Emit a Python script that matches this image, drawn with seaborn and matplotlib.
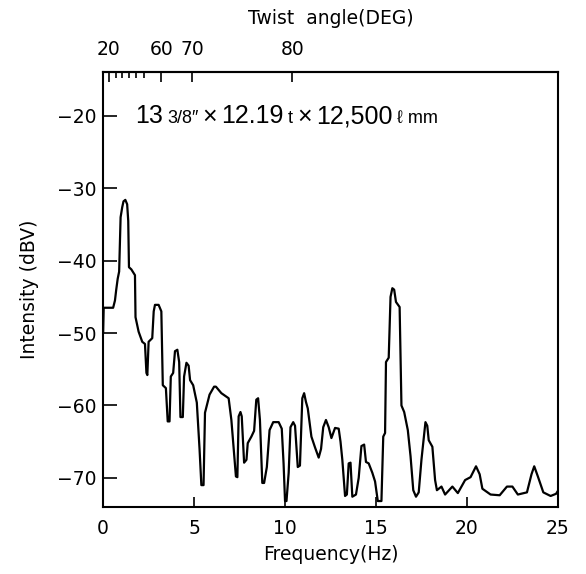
import matplotlib
matplotlib.use("Agg")
import matplotlib.pyplot as plt
from matplotlib.offsetbox import TextArea, HPacker, AnchoredOffsetbox
import seaborn as sns
import pandas as pd

# spectrum
freq_hz = [0.00, 0.03, 0.55, 0.65, 0.72, 0.80, 0.88, 0.92, 0.96, 1.05, 1.12, 1.22, 1.32, 1.38,
           1.42, 1.55, 1.75, 1.78, 1.95, 2.15, 2.30, 2.38, 2.43, 2.50, 2.70, 2.78, 2.85, 3.05,
           3.20, 3.28, 3.45, 3.55, 3.65, 3.72, 3.85, 3.95, 4.08, 4.18, 4.25, 4.38, 4.45, 4.58,
           4.70, 4.78, 4.95, 5.15, 5.30, 5.40, 5.52, 5.60, 5.85, 6.10, 6.20, 6.50, 6.90, 7.05,
           7.30, 7.38, 7.45, 7.55, 7.62, 7.75, 7.88, 7.95, 8.15, 8.30, 8.42, 8.52, 8.62, 8.75,
           8.85, 9.00, 9.15, 9.35, 9.65, 9.82, 9.92, 10.00, 10.08, 10.20, 10.30, 10.45, 10.55,
           10.70, 10.82, 10.95, 11.05, 11.15, 11.25, 11.45, 11.65, 11.85, 11.98, 12.10, 12.25,
           12.40, 12.55, 12.75, 12.95, 13.05, 13.15, 13.30, 13.40, 13.50, 13.60, 13.70, 13.90,
           14.05, 14.20, 14.35, 14.45, 14.60, 14.80, 14.95, 15.10, 15.30, 15.40, 15.50, 15.55,
           15.70, 15.80, 15.90, 16.00, 16.10, 16.30, 16.40, 16.55, 16.75, 16.90, 17.05, 17.20,
           17.35, 17.50, 17.60, 17.72, 17.82, 17.90, 18.10, 18.25, 18.35, 18.60, 18.80, 19.20,
           19.50, 19.90, 20.20, 20.50, 20.70, 20.85, 21.30, 21.80, 22.20, 22.50, 22.80, 23.30,
           23.55, 23.70, 23.90, 24.20, 24.60, 24.90, 25.00]
intensity_dbv = [-50.0, -46.5, -46.5, -45.5, -44.0, -42.5, -41.5, -38.0, -34.0, -32.6, -31.8, -31.6,
                 -32.2, -34.5, -40.9, -41.2, -42.0, -47.8, -49.8, -51.2, -51.5, -55.5, -55.8, -51.2,
                 -50.7, -47.0, -46.1, -46.1, -47.0, -57.2, -57.6, -62.2, -62.2, -56.0, -55.5, -52.5,
                 -52.3, -54.0, -61.6, -61.6, -56.0, -54.1, -54.5, -56.5, -57.2, -59.6, -66.0, -71.0,
                 -71.0, -61.0, -58.5, -57.4, -57.4, -58.3, -59.0, -62.0, -69.8, -69.9, -61.5, -60.9,
                 -61.5, -67.9, -67.5, -65.2, -64.3, -63.5, -59.2, -59.0, -62.0, -70.7, -70.7, -68.5,
                 -63.4, -62.3, -62.3, -63.2, -68.0, -73.2, -73.2, -69.3, -63.0, -62.3, -62.8, -68.5,
                 -68.3, -59.0, -58.3, -59.5, -60.4, -64.3, -65.8, -67.2, -66.0, -63.0, -62.0, -63.0,
                 -64.5, -63.1, -63.2, -65.0, -67.5, -72.5, -72.3, -68.0, -67.9, -72.6, -72.3, -70.0,
                 -65.6, -65.4, -67.8, -68.0, -69.3, -70.5, -73.2, -73.2, -64.3, -63.8, -54.0, -53.4,
                 -45.0, -43.8, -44.0, -45.7, -46.4, -60.0, -60.9, -63.4, -67.0, -71.7, -72.6, -72.0,
                 -67.5, -65.2, -62.3, -62.8, -64.8, -65.7, -70.3, -71.7, -71.2, -72.3, -71.2, -72.1,
                 -70.3, -69.9, -68.4, -69.5, -71.5, -72.3, -72.4, -71.2, -71.2, -72.3, -72.0, -69.5,
                 -68.4, -69.8, -72.0, -72.5, -72.2, -71.8]

freq_ticks = [0, 5, 10, 15, 20, 25]
db_ticks = [-20, -30, -40, -50, -60, -70]

# top axis: twist angle labels at their frequency positions
twist_labels = ["20", "60", "70", "80"]
twist_pos_hz = [0.3, 3.2, 4.9, 10.4]
twist_minor_hz = [0.68, 1.01, 1.4, 1.78, 2.22]

df = pd.DataFrame({"freq": freq_hz, "db": intensity_dbv})

sns.set_style("ticks")
plt.rcParams["font.family"] = ["DejaVu Sans"]
plt.rcParams.update({"text.color": "black", "axes.labelcolor": "black",
                     "xtick.color": "black", "ytick.color": "black"})

fig = plt.figure(figsize=(5.86, 5.74), dpi=100)
ax = fig.add_axes([0.176, 0.117, 0.776, 0.758])

sns.lineplot(data=df, x="freq", y="db", sort=False, color="black", linewidth=1.6, ax=ax)

ax.set_xlim(0, 25)
ax.set_ylim(-74, -13.9)
ax.set_xticks(freq_ticks)
ax.set_yticks(db_ticks)
ax.tick_params(axis="x", direction="in", length=7, width=1.2, labelsize=13.5, pad=9)
ax.tick_params(axis="y", direction="in", length=10, width=1.2, labelsize=13.5, pad=5)
for s in ax.spines.values():
    s.set_linewidth(1.5)
    s.set_color("black")

ax.set_xlabel("Frequency(Hz)", fontsize=13.5, labelpad=5)
ax.set_ylabel("Intensity (dBV)", fontsize=13.5, labelpad=13)

top = ax.secondary_xaxis("top")
top.set_xticks(twist_pos_hz)
top.set_xticklabels(twist_labels)
top.set_xticks(twist_minor_hz, minor=True)
top.tick_params(axis="x", which="major", direction="in", length=7, width=1.2, labelsize=13.5, pad=9)
top.tick_params(axis="x", which="minor", direction="in", length=4, width=1.2)
top.spines["top"].set_linewidth(1.5)
top.set_xlabel("Twist  angle(DEG)", fontsize=13.5, labelpad=12)

big = dict(fontsize=18, color="black", family="Liberation Sans")
small = dict(fontsize=13, color="black", family=["Liberation Sans", "DejaVu Sans"])
parts = [("13", big), ("3/8\u2033", small), ("\u00d7", big), ("12.19", big), ("t", small),
         ("\u00d7", big), ("12,500", big), ("\u2113 mm", small)]
pack = HPacker(children=[TextArea(t, textprops=p) for t, p in parts], align="baseline", pad=0, sep=3)
box = AnchoredOffsetbox(loc="upper left", child=pack, bbox_to_anchor=(0.07, 0.925),
                        bbox_transform=ax.transAxes, frameon=False, borderpad=0, pad=0)
ax.add_artist(box)

fig.savefig("out.png", dpi=100)
